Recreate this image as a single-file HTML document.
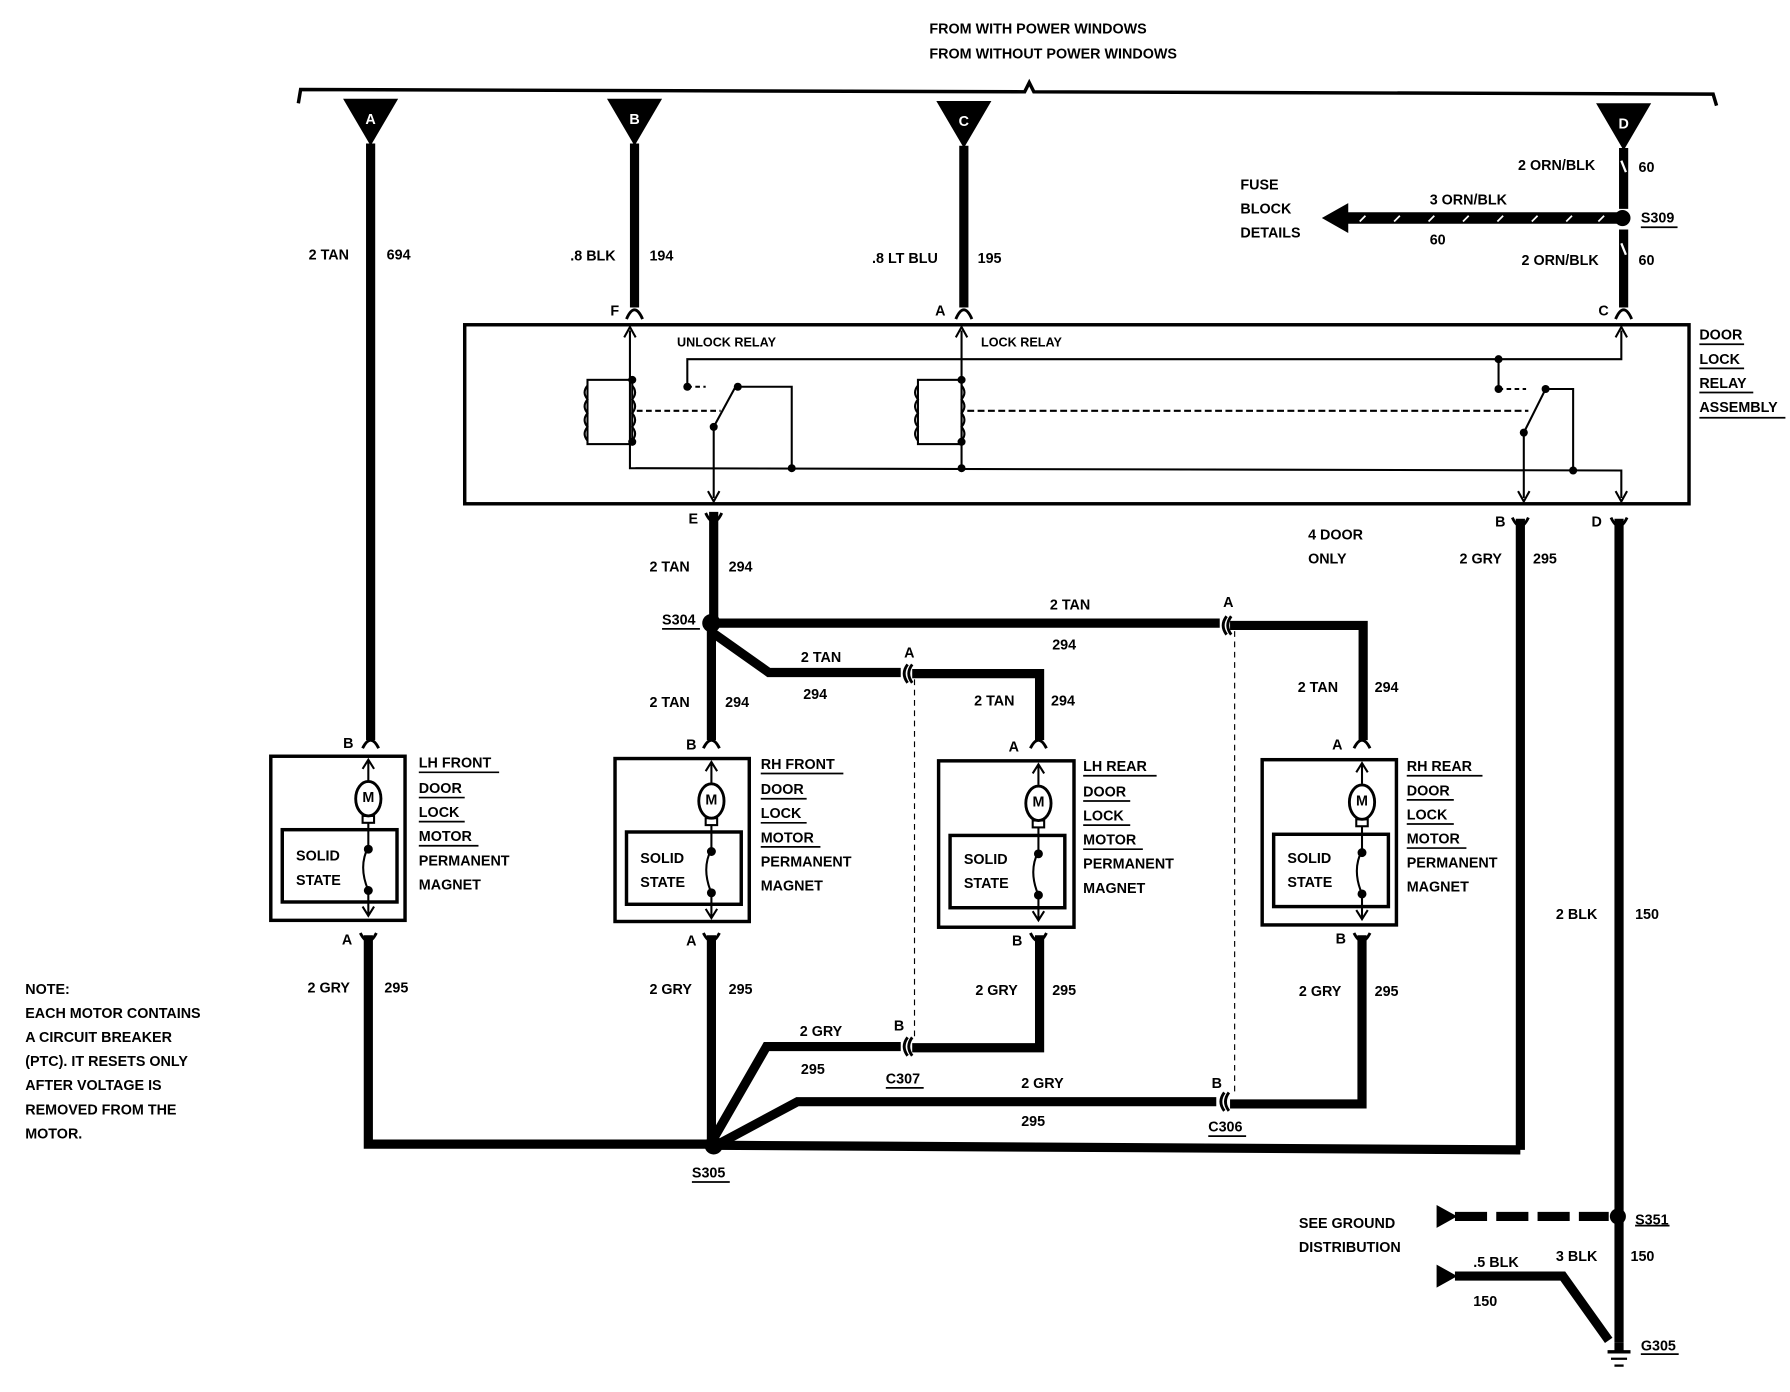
<!DOCTYPE html>
<html><head><meta charset="utf-8"><style>
html,body{margin:0;padding:0;background:#fff;}
svg{display:block;}
text{font-family:"Liberation Sans",sans-serif;font-weight:bold;font-size:12.5px;fill:#000;}
</style></head><body>
<svg width="1790" height="1392" viewBox="0 0 1560 1213" preserveAspectRatio="none" xmlns="http://www.w3.org/2000/svg">
<rect width="1560" height="1213" fill="#fff"/>
<!-- header -->
<text x="810" y="29">FROM  WITH POWER WINDOWS</text>
<text x="810" y="51">FROM  WITHOUT POWER WINDOWS</text>
<path d="M260,90 L262,78 L893,80 L897,72 L901,80 L1493,82 L1496,92" fill="none" stroke="#000" stroke-width="3"/>
<!-- connector triangles -->
<g fill="#000">
<path d="M299,86 L347,86 L323,127 Z"/><path d="M529,86 L577,86 L553,127 Z"/>
<path d="M816,88 L864,88 L840,129 Z"/><path d="M1391,90 L1439,90 L1415,131 Z"/>
</g>
<g style="fill:#fff;font-size:15px" text-anchor="middle">
<text x="323" y="108" fill="#fff" style="fill:#fff">A</text><text x="553" y="108" style="fill:#fff">B</text>
<text x="840" y="110" style="fill:#fff">C</text><text x="1415" y="112" style="fill:#fff">D</text>
</g>
<!-- thick wires -->
<g stroke="#000" stroke-width="8" fill="none">
<path d="M323,125 V645"/><path d="M553,125 V268"/><path d="M840,127 V268"/>
<path d="M1415,129 V182"/><path d="M1415,200 V268"/>
<path d="M622,446 V541"/><path d="M1325,452 V1002"/><path d="M1411,452 V1170"/>
<path d="M620,543 H1063"/><path d="M1072,545 H1188 V645"/>
<path d="M622,552 L670,586 H785"/><path d="M795,587 H906 V645"/>
<path d="M620,543 V645"/>
<path d="M321,815 V997 H622"/><path d="M620,815 V997"/>
<path d="M906,815 V913 H795"/><path d="M785,912 H668 L622,992"/>
<path d="M1187,815 V962 H1072"/><path d="M1060,960 H695 L628,996"/>
<path d="M622,998 L1325,1002"/>
<path d="M1268,1112 H1362 L1402,1168"/>
</g>
<!-- hatch marks on D wire -->
<g stroke="#fff" stroke-width="2"><path d="M1413,140 L1417,150"/><path d="M1413,212 L1417,222"/></g>
<!-- fuse block arrow -->
<path d="M1410,190 H1172" stroke="#000" stroke-width="10"/>
<path d="M1175,177 L1152,190 L1175,203 Z" fill="#000"/>
<g stroke="#fff" stroke-width="1.5"><path d="M1185,193 l5,-5 M1215,193 l5,-5 M1245,193 l5,-5 M1275,193 l5,-5 M1305,193 l5,-5 M1335,193 l5,-5 M1365,193 l5,-5 M1393,193 l5,-5"/></g>
<circle cx="1414" cy="190" r="7" fill="#000"/>
<!-- pin forks -->
<g stroke="#000" stroke-width="2.5" fill="none">
<path d="M546,278 Q553,262 560,278"/><path d="M833,278 Q840,262 847,278"/><path d="M1408,278 Q1415,262 1422,278"/>
<path d="M615,447 Q622,462 629,447"/><path d="M1318,451 Q1325,466 1332,451"/><path d="M1404,451 Q1411,466 1418,451"/>
<path d="M316,652 Q323,638 330,652"/><path d="M613,652 Q620,638 627,652"/><path d="M898,652 Q905,638 912,652"/><path d="M1180,652 Q1187,638 1194,652"/>
<path d="M314,813 Q321,827 328,813"/><path d="M613,813 Q620,827 627,813"/><path d="M898,813 Q905,827 912,813"/><path d="M1180,813 Q1187,827 1194,813"/>
</g>
<!-- relay box -->
<rect x="405" y="283" width="1067" height="156" fill="none" stroke="#000" stroke-width="3"/>
<g stroke="#000" stroke-width="1.8" fill="none">
<path d="M549,288 V408 L1413,410 V434"/>
<path d="M838,288 V408"/>
<path d="M599,337 V313 H1413 V288"/>
<path d="M643,337 H690 V408"/>
<path d="M599,337 H615" stroke-dasharray="4,3"/>
<path d="M622,372 L641,337"/>
<path d="M622,372 V434"/>
<rect x="512" y="331" width="39" height="56"/>
<rect x="800" y="331" width="38" height="56"/>
<path d="M512,336 q-5,6 0,12 q-5,6 0,12 q-5,6 0,12 q-5,6 0,12"/>
<path d="M800,336 q-5,6 0,12 q-5,6 0,12 q-5,6 0,12 q-5,6 0,12"/>
<path d="M551,336 q5,6 0,12 q5,6 0,12 q5,6 0,12 q5,6 0,12"/>
<path d="M838,336 q5,6 0,12 q5,6 0,12 q5,6 0,12 q5,6 0,12"/>
<path d="M555,358 H628" stroke-dasharray="5,3"/>
<path d="M843,358 H1332" stroke-dasharray="6,3"/>
<path d="M1306,313 V339"/>
<path d="M1306,339 H1330" stroke-dasharray="4,3"/>
<path d="M1347,339 L1328,377 V434"/>
<path d="M1347,339 H1371 V410"/>
<!-- arrows -->
<path d="M544,294 L549,285 L554,294"/><path d="M833,294 L838,285 L843,294"/><path d="M1408,294 L1413,285 L1418,294"/>
<path d="M617,428 L622,437 L627,428"/><path d="M1323,428 L1328,437 L1333,428"/><path d="M1408,428 L1413,437 L1418,428"/>
</g>
<g fill="#000">
<circle cx="551" cy="331" r="3.5"/><circle cx="551" cy="385" r="3.5"/><circle cx="838" cy="331" r="3.5"/><circle cx="838" cy="385" r="3.5"/>
<circle cx="599" cy="337" r="3.5"/><circle cx="643" cy="337" r="3.5"/><circle cx="622" cy="372" r="3.5"/>
<circle cx="690" cy="408" r="3.5"/><circle cx="838" cy="408" r="3.5"/><circle cx="1371" cy="410" r="3.5"/>
<circle cx="1306" cy="313" r="3.5"/><circle cx="1306" cy="339" r="3.5"/><circle cx="1347" cy="339" r="3.5"/><circle cx="1328" cy="377" r="3.5"/>
</g>
<text x="590" y="302" style="font-size:11px">UNLOCK RELAY</text>
<text x="855" y="302" style="font-size:11px">LOCK RELAY</text>
<text x="1481" y="296">DOOR</text><text x="1481" y="317">LOCK</text><text x="1481" y="338">RELAY</text><text x="1481" y="359">ASSEMBLY</text>
<g stroke="#000" stroke-width="1.5"><path d="M1481,300 H1520 M1481,321 H1520 M1481,342 H1528 M1481,364 H1556"/></g>
<!-- splices & connectors -->
<g fill="#000">
<circle cx="620" cy="543" r="8"/><circle cx="622" cy="998" r="8"/><circle cx="1410" cy="1060" r="7"/>
</g>
<g stroke="#000" stroke-width="2.5" fill="none">
<path d="M1069,537 Q1063,545 1069,553"/><path d="M1073,537 Q1067,545 1073,553"/>
<path d="M791,579 Q785,587 791,595"/><path d="M795,579 Q789,587 795,595"/>
<path d="M791,904 Q785,912 791,920"/><path d="M795,904 Q789,912 795,920"/>
<path d="M1067,952 Q1061,960 1067,968"/><path d="M1071,952 Q1065,960 1071,968"/>
</g>
<g stroke="#000" stroke-width="1" stroke-dasharray="5,4"><path d="M797,592 V905"/><path d="M1076,550 V955"/></g>
<!-- motor boxes -->
<g stroke="#000" fill="none">
<g stroke-width="3">
<rect x="236" y="659" width="117" height="143"/><rect x="246" y="723" width="100" height="63"/>
<rect x="536" y="661" width="117" height="142"/><rect x="546" y="725" width="100" height="63"/>
<rect x="818" y="663" width="118" height="145"/><rect x="828" y="728" width="100" height="63"/>
<rect x="1100" y="662" width="117" height="144"/><rect x="1110" y="727" width="100" height="63"/>
</g>
</g>
<g id="mot" stroke="#000" stroke-width="1.8" fill="none">
<path d="M321,662 V680 M316,670 L321,662 L326,670"/>
<ellipse cx="321" cy="696" rx="11" ry="15" stroke-width="2.5"/>
<rect x="316" y="711" width="10" height="6"/>
<path d="M321,717 V738 Q312,755 321,776 V798 M316,790 L321,798 L326,790"/>
<circle cx="321" cy="740" r="3" fill="#000"/><circle cx="321" cy="776" r="3" fill="#000"/>
</g>
<use href="#mot" x="299" y="2"/><use href="#mot" x="584" y="4"/><use href="#mot" x="866" y="3"/>
<g text-anchor="middle" style="font-size:9px"><text x="321" y="699">M</text><text x="620" y="701">M</text><text x="905" y="703">M</text><text x="1187" y="702">M</text></g>
<text x="258" y="750">SOLID</text><text x="258" y="771">STATE</text>
<text x="558" y="752">SOLID</text><text x="558" y="773">STATE</text>
<text x="840" y="753">SOLID</text><text x="840" y="774">STATE</text>
<text x="1122" y="752">SOLID</text><text x="1122" y="773">STATE</text>
<!-- motor labels -->
<g>
<text x="365" y="669">LH FRONT</text><text x="365" y="691">DOOR</text><text x="365" y="712">LOCK</text><text x="365" y="733">MOTOR</text><text x="365" y="754">PERMANENT</text><text x="365" y="775">MAGNET</text>
<text x="663" y="670">RH FRONT</text><text x="663" y="692">DOOR</text><text x="663" y="713">LOCK</text><text x="663" y="734">MOTOR</text><text x="663" y="755">PERMANENT</text><text x="663" y="776">MAGNET</text>
<text x="944" y="672">LH REAR</text><text x="944" y="694">DOOR</text><text x="944" y="715">LOCK</text><text x="944" y="736">MOTOR</text><text x="944" y="757">PERMANENT</text><text x="944" y="778">MAGNET</text>
<text x="1226" y="672">RH REAR</text><text x="1226" y="693">DOOR</text><text x="1226" y="714">LOCK</text><text x="1226" y="735">MOTOR</text><text x="1226" y="756">PERMANENT</text><text x="1226" y="777">MAGNET</text>
</g>
<g stroke="#000" stroke-width="1.5">
<path d="M365,673 H435 M365,695 H405 M365,716 H405 M365,737 H417"/>
<path d="M663,674 H735 M663,696 H703 M663,717 H703 M663,738 H715"/>
<path d="M944,676 H1008 M944,698 H985 M944,719 H985 M944,740 H996"/>
<path d="M1226,676 H1292 M1226,697 H1267 M1226,718 H1267 M1226,739 H1278"/>
</g>
<!-- pin letters -->
<text x="532" y="275">F</text><text x="815" y="275">A</text><text x="1393" y="275">C</text>
<text x="600" y="456">E</text><text x="1303" y="459">B</text><text x="1387" y="459">D</text>
<text x="299" y="652">B</text><text x="598" y="653">B</text><text x="879" y="655">A</text><text x="1161" y="653">A</text>
<text x="298" y="823">A</text><text x="598" y="824">A</text><text x="882" y="824">B</text><text x="1164" y="822">B</text>
<text x="1066" y="529">A</text><text x="788" y="573">A</text><text x="779" y="898">B</text><text x="1056" y="948">B</text>
<!-- wire labels -->
<text x="269" y="226">2 TAN</text><text x="337" y="226">694</text>
<text x="497" y="227">.8 BLK</text><text x="566" y="227">194</text>
<text x="760" y="229">.8 LT BLU</text><text x="852" y="229">195</text>
<text x="1323" y="148">2 ORN/BLK</text><text x="1428" y="150">60</text>
<text x="1246" y="178">3 ORN/BLK</text><text x="1246" y="213">60</text>
<text x="1081" y="165">FUSE</text><text x="1081" y="186">BLOCK</text><text x="1081" y="207">DETAILS</text>
<text x="1430" y="194">S309</text>
<text x="1326" y="231">2 ORN/BLK</text><text x="1428" y="231">60</text>
<text x="566" y="498">2 TAN</text><text x="635" y="498">294</text>
<text x="1140" y="470">4 DOOR</text><text x="1140" y="491">ONLY</text>
<text x="1272" y="491">2 GRY</text><text x="1336" y="491">295</text>
<text x="577" y="544">S304</text>
<text x="915" y="531">2 TAN</text><text x="917" y="566">294</text>
<text x="698" y="577">2 TAN</text><text x="700" y="609">294</text>
<text x="566" y="616">2 TAN</text><text x="632" y="616">294</text>
<text x="849" y="615">2 TAN</text><text x="916" y="615">294</text>
<text x="1131" y="603">2 TAN</text><text x="1198" y="603">294</text>
<text x="268" y="865">2 GRY</text><text x="335" y="865">295</text>
<text x="566" y="866">2 GRY</text><text x="635" y="866">295</text>
<text x="850" y="867">2 GRY</text><text x="917" y="867">295</text>
<text x="1132" y="868">2 GRY</text><text x="1198" y="868">295</text>
<text x="697" y="903">2 GRY</text><text x="698" y="936">295</text>
<text x="772" y="944">C307</text>
<text x="890" y="948">2 GRY</text><text x="890" y="981">295</text>
<text x="1053" y="986">C306</text>
<text x="603" y="1026">S305</text>
<text x="1356" y="801">2 BLK</text><text x="1425" y="801">150</text>
<g stroke="#000" stroke-width="1.5"><path d="M1430,198 H1462 M577,548 H610 M772,948 H805 M1053,990 H1086 M603,1030 H636 M1425,1068 H1455 M1430,1180 H1463"/></g>
<!-- note -->
<text x="22" y="866">NOTE:</text><text x="22" y="887">EACH MOTOR CONTAINS</text><text x="22" y="908">A CIRCUIT BREAKER</text>
<text x="22" y="929">(PTC). IT RESETS ONLY</text><text x="22" y="950">AFTER VOLTAGE IS</text><text x="22" y="971">REMOVED FROM THE</text><text x="22" y="992">MOTOR.</text>
<!-- ground section -->
<path d="M1268,1060 H1402" stroke="#000" stroke-width="8" stroke-dasharray="28,8"/>
<path d="M1252,1050 L1270,1060 L1252,1070 Z" fill="#000"/>
<path d="M1252,1102 L1270,1112 L1252,1122 Z" fill="#000"/>
<text x="1132" y="1070">SEE GROUND</text><text x="1132" y="1091">DISTRIBUTION</text>
<text x="1425" y="1067">S351</text>
<text x="1284" y="1104">.5 BLK</text><text x="1284" y="1138">150</text>
<text x="1356" y="1099">3 BLK</text><text x="1421" y="1099">150</text>
<g stroke="#000"><path d="M1411,1170 V1178" stroke-width="8"/><path d="M1401,1178 H1421" stroke-width="3"/><path d="M1404,1184 H1418" stroke-width="2"/><path d="M1407,1190 H1415" stroke-width="2"/></g>
<text x="1430" y="1177">G305</text>
</svg>
</body></html>
